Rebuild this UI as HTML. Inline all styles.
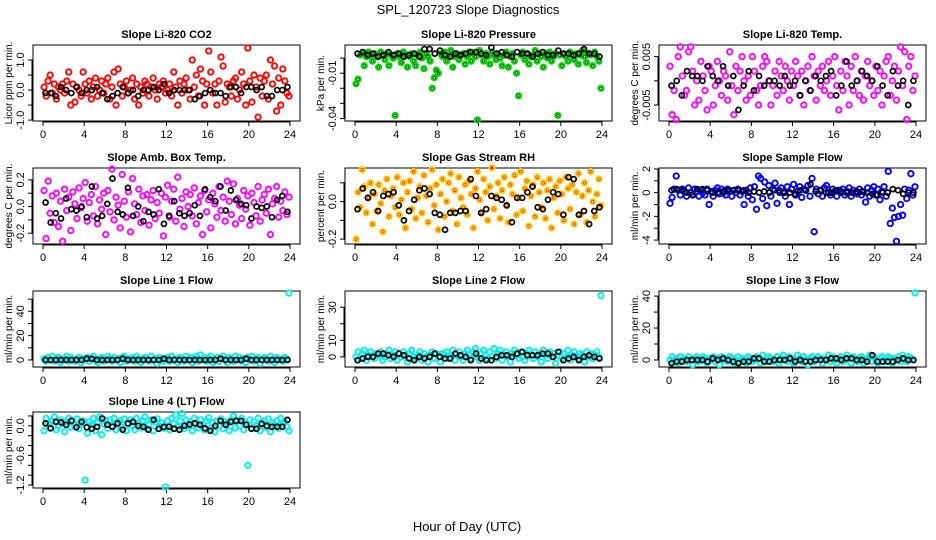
<!DOCTYPE html>
<html><head><meta charset="utf-8"><style>
html,body{margin:0;padding:0;background:#fff;}
svg{display:block;font-family:"Liberation Sans",Arial,sans-serif;}
</style></head><body>
<svg id="chart" width="936" height="540" viewBox="0 0 936 540" xmlns="http://www.w3.org/2000/svg">
<rect width="936" height="540" fill="#fff"/>
<text x="468" y="14" text-anchor="middle" font-size="13">SPL_120723  Slope Diagnostics</text>
<text x="467" y="531" text-anchor="middle" font-size="13">Hour of Day (UTC)</text>
</svg>
<script>
// shared x tick labels
const xTicks = [0,4,8,12,16,20,24];

// Panel 1: CO2
const co2Color = [0.1,-0.2,0.3,0.5,-0.1,0.2,-0.3,0.1,0.0,0.2,-0.1,0.3,0.6,-0.5,0.2,-0.4,0.1,0.0,-0.2,0.6,
0.2,-0.1,0.3,-0.3,0.1,0.4,-0.2,0.0,0.3,-0.1,0.2,0.4,-0.3,0.1,0.6,-0.5,0.7,0.2,-0.2,0.1,
0.3,-0.1,0.0,0.4,-0.3,0.2,-0.5,0.1,-0.1,0.3,0.2,-0.2,0.1,0.4,0.0,-0.3,0.2,0.1,0.3,-0.1,
0.0,0.2,-0.2,0.6,0.1,-0.5,0.3,-0.1,0.2,0.4,0.0,-0.3,1.0,0.1,0.5,-0.2,0.7,0.3,-0.5,0.2,
1.3,0.6,-0.1,0.2,-0.5,0.3,1.1,0.8,-0.4,0.2,0.1,-0.2,0.3,0.4,-0.3,0.0,0.6,0.2,-0.5,1.4,
0.3,-0.4,0.5,0.1,-0.9,0.4,-0.2,0.3,0.5,-0.3,1.0,0.2,0.8,-0.7,0.4,-0.5,0.7,0.3,-0.1,-0.2];
const co2Black = [-0.1,-0.1,-0.2,0.1,0.0,-0.1,0.1,-0.1,0.0,0.0,0.1,-0.1,-0.3,-0.2,-0.1,0.1,-0.1,0.0,-0.2,0.0,0.0,0.1,0.0,0.2,-0.1,0.0,0.0,0.0,0.0,-0.3,-0.2,-0.1,0.0,-0.1,-0.1,-0.2,0.1,0.1,-0.1,0.1,0.1,0.0,0.1,-0.2,-0.2,0.0,0.0,0.1];
const co2YTicks = [-1.0,-0.5,0.0,0.5,1.0];
const co2YLabels = ["-1.0","","0.0","","1.0"];

// Panel 2: Pressure (values in 1e-3 kPa/min)
const presColor = [-17,-14,2,3,-5,1,4,2,-2,3,1,-6,4,2,-1,3,-5,2,0,-38,
3,1,-3,4,2,-6,1,3,-2,-5,2,4,0,-7,3,1,-2,-20,-13,-8,
-10,3,1,4,-2,2,5,-6,1,3,-1,2,3,-4,1,4,-2,3,1,-41,
5,2,-2,3,1,-4,4,2,-1,3,0,-5,2,4,-6,1,3,-2,-10,-25,
2,4,-1,3,-4,1,2,5,-2,3,1,-6,3,0,4,-2,1,3,-38,2,
-5,3,1,-2,4,2,-1,3,-4,2,5,1,-3,3,2,-5,4,1,-2,-20];
const presBlack = [3,4,2,3,1,2,4,2,3,1,2,3,1,6,6,3,5,2,1,3,2,3,4,4,3,2,7,3,4,2,1,4,3,3,1,3,4,2,2,5,3,3,2,3,6,3,3,1];
const presYTicks = [-40,-30,-20,-10,0];
const presYLabels = ["-0.04","","","-0.01",""];

// Panel 3: Li-820 Temp (values in 1e-3 degC/min)
const tempColor = [3,-7,-2,-8,5,7,1,-3,-2,6,7,2,-5,0,-4,4,1,-2,-6,3,
2,-5,-1,4,0,-3,2,1,-4,6,-1,-7,3,-2,2,5,0,-4,1,-3,
5,2,-2,-5,-1,3,5,4,0,-5,-1,2,-3,4,1,-2,3,0,-4,2,
-1,4,1,-3,2,-5,0,3,-2,5,1,-4,2,-1,3,-2,0,4,-3,1,
5,-1,-6,2,-2,4,1,-5,3,-2,5,0,-3,2,-4,1,4,-1,0,-3,
3,-2,2,-5,1,4,5,-3,0,3,-4,2,7,-1,6,-8,3,5,-2,1];
const tempBlack = [-1,0,-3,2,1,1,0,3,1,0,3,-1,1,-6,-1,2,-2,1,-1,0,0,-1,1,-1,0,-3,0,-2,1,0,1,2,-3,-1,4,-1,0,2,1,0,3,-1,-3,2,-1,0,-5,0];
const tempYTicks = [-5,0,5];
const tempYLabels = ["-0.005","","0.005"];

// Panel 4: Amb. Box Temp
const ambColor = [0.12,-0.24,0.19,-0.05,0.08,-0.12,0.10,-0.15,0.04,-0.26,0.13,-0.03,0.07,-0.18,0.11,0.02,-0.09,0.14,-0.01,0.06,
0.18,-0.11,0.03,0.09,-0.07,0.15,-0.13,0.05,-0.02,0.10,-0.21,0.12,-0.04,0.28,-0.10,0.07,0.01,-0.16,0.24,0.04,
-0.08,0.11,-0.19,0.21,0.02,-0.06,0.13,-0.12,0.08,-0.03,0.09,-0.14,0.05,0.12,-0.09,0.03,-0.05,0.10,-0.22,0.07,
0.16,-0.08,0.04,0.13,-0.11,0.22,-0.02,0.06,-0.15,0.11,0.00,0.09,-0.07,0.14,-0.13,0.03,0.08,-0.21,0.12,-0.04,
0.05,-0.16,0.10,0.02,-0.08,0.15,-0.03,0.07,-0.11,0.19,0.04,-0.06,0.17,-0.13,0.06,0.01,-0.09,0.12,-0.02,0.08,
-0.14,0.10,0.03,-0.07,0.15,-0.11,0.05,0.09,-0.05,0.13,-0.21,0.02,0.06,0.15,-0.08,0.04,-0.03,0.11,-0.06,0.07];
const ambBlack = [0.03,-0.12,-0.05,-0.09,0.06,-0.02,-0.03,0.0,-0.08,0.15,-0.09,-0.07,0.02,0.21,-0.04,-0.06,0.14,-0.07,0.0,-0.11,-0.04,-0.06,0.13,-0.13,-0.07,0.04,-0.05,-0.07,-0.05,0.01,-0.07,0.13,0.07,0.04,0.15,-0.03,0.12,0.05,0.02,0.01,-0.09,0.0,-0.01,0.0,-0.08,0.05,0.08,-0.04];
const ambYTicks = [-0.2,-0.1,0.0,0.1,0.2];
const ambYLabels = ["-0.2","","0.0","","0.2"];

// Panel 5: Gas Stream RH
const rhColor = [-0.2,0.05,-0.03,0.17,0.08,-0.06,0.02,0.10,-0.12,0.04,-0.05,0.09,-0.01,-0.16,0.06,0.12,-0.08,0.03,0.07,-0.03,
0.13,-0.07,0.01,0.10,-0.14,0.05,0.11,-0.04,0.16,-0.09,0.02,0.08,-0.06,0.14,0.03,-0.11,0.07,0.17,-0.02,0.09,
-0.15,0.04,0.12,-0.08,0.00,0.10,0.15,-0.05,0.06,-0.12,0.13,0.02,-0.03,0.09,-0.07,0.11,0.04,-0.14,0.07,0.16,
0.01,-0.06,0.12,0.05,-0.10,0.08,0.18,-0.04,0.03,0.10,-0.09,0.06,0.13,-0.02,-0.11,0.09,0.04,0.14,-0.07,0.02,
0.16,-0.05,0.07,0.11,-0.13,0.03,0.09,-0.08,0.13,0.05,-0.03,0.10,-0.09,0.06,0.12,-0.14,0.02,0.08,-0.06,0.11,
0.04,-0.10,0.13,0.07,-0.04,0.09,-0.12,0.05,0.15,-0.07,0.03,0.10,-0.11,0.06,0.16,0.00,-0.08,0.04,0.12,-0.02];
const rhBlack = [-0.04,0.07,0.02,0.05,-0.05,0.03,0.04,0.05,-0.02,-0.1,-0.05,0.01,0.06,0.07,0.04,-0.06,-0.07,-0.15,-0.06,-0.06,-0.05,-0.05,0.12,0.03,-0.06,-0.04,0.03,0.02,0.01,-0.02,-0.11,0.02,0.02,0.05,0.08,-0.03,-0.04,0.01,0.05,0.04,-0.07,0.13,0.12,-0.07,-0.05,-0.12,-0.05,-0.03];
const rhYTicks = [-0.2,-0.1,0.0,0.1];
const rhYLabels = ["-0.2","","0.0",""];

// Panel 6: Sample Flow
const sampColor = [-0.9,-0.4,0.3,1.4,0.2,-0.2,0.3,0.1,-0.3,0.4,0.0,-0.2,0.3,0.1,-0.3,0.2,0.0,-0.2,0.3,-1.0,
0.1,-0.3,0.2,0.4,-0.1,0.3,0.0,-0.2,0.3,0.1,-0.3,0.2,0.0,0.3,-0.2,0.1,-1.0,0.2,-0.3,0.4,
-0.6,0.5,-1.4,1.4,1.2,-0.5,0.9,-1.1,0.6,-0.3,0.3,0.8,-0.9,0.2,0.4,0.0,-0.3,0.5,-1.0,0.3,
0.7,-0.2,0.1,0.5,-0.4,0.3,0.2,0.6,-0.3,1.2,-3.3,0.3,-0.1,0.2,-0.3,0.4,0.6,0.0,-0.2,0.3,
0.1,-0.3,0.2,0.0,0.3,-0.2,0.1,0.4,-0.3,0.2,0.0,-0.1,0.3,-0.2,0.1,-0.8,0.4,-0.3,0.2,0.5,
-0.2,0.3,-0.6,0.1,0.5,-0.3,1.8,-2.6,-1.3,-2.1,-4.1,-2.0,-1.0,-1.9,0.3,-0.5,0.2,1.6,-0.2,0.5];
const sampBlack = [0.2,0.3,0.2,0.0,-0.2,0.3,0.3,0.2,0.0,0.0,0.1,0.2,0.2,0.2,0.2,0.0,0.1,0.0,0.1,0.0,0.2,0.0,0.0,0.0,-0.1,0.2,0.2,0.7,0.1,0.2,0.0,0.0,0.2,0.1,0.0,0.0,0.1,0.1,0.0,-0.1,-0.2,0.0,0.0,0.3,0.2,-0.1,0.0,0.0];
const sampYTicks = [-4,-3,-2,-1,0,1,2];
const sampYLabels = ["-4","","-2","","0","","2"];

// Panel 7: Line 1 Flow
const l1Color = [1,-1,2,0,3,-1,1,2,-2,0,1,3,-1,2,0,-1,1,2,-2,1,
0,2,-1,1,3,0,-2,1,2,-1,0,3,1,-1,2,0,1,-2,2,3,
-1,1,0,2,-1,3,1,-2,0,2,1,-1,3,0,1,-3,2,0,-1,1,
2,-1,3,0,1,-2,2,1,-1,3,0,2,-2,1,3,-1,4,0,2,-1,
1,3,-2,0,2,-1,1,3,0,-2,2,1,-1,3,0,2,-1,1,-2,2,
0,3,-1,1,2,-3,0,2,1,-1,3,0,-2,2,1,0,-1,2,1,55];
const l1Black = [0,0,0,0,0,0,0,0,1,1,0,0,0,0,0,1,0,0,0,0,0,0,0,1,0,0,0,0,0,0,0,0,0,0,1,0,0,0,0,1,0,0,0,0,0,0,0,0];
const l1YTicks = [0,10,20,30,40,50];
const l1YLabels = ["0","","20","","40",""];

// Panel 8: Line 2 Flow
const l2Color = [0,3,-1,2,4,-2,1,3,0,-1,2,1,3,-2,0,2,4,-1,1,3,
-2,2,0,3,1,-3,2,4,0,-1,1,3,-2,2,0,-3,1,3,-1,2,
0,-3,2,1,3,-1,0,4,-2,1,3,0,-2,2,4,1,-1,3,5,0,
-2,2,4,1,-1,3,0,5,-1,2,4,-2,1,3,0,-3,2,4,1,-1,
3,0,-2,2,4,1,-1,3,0,2,-3,4,1,-1,3,0,2,-4,1,3,
-1,2,0,4,-2,1,3,0,-1,2,1,-3,3,0,2,-1,1,3,0,37];
const l2Black = [-2,-1,0,0,2,2,1,0,2,1,-1,-2,0,-1,0,2,0,-1,-1,2,1,0,-2,2,-1,-2,-2,0,1,1,0,2,3,1,1,1,2,2,0,3,-2,-1,0,-2,0,1,0,-1];
const l2YTicks = [0,10,20,30];
const l2YLabels = ["0","10","","30"];

// Panel 9: Line 3 Flow
const l3Color = [0,2,-1,1,-2,2,0,1,-1,2,0,-3,1,2,-1,0,2,1,-2,1,
0,2,-1,1,-3,2,0,1,-1,2,1,-2,0,2,-1,1,0,-2,2,1,
-1,0,2,1,-2,3,0,-1,2,1,-1,0,2,-2,1,3,0,-1,2,1,
-2,0,3,1,-1,2,0,-3,1,2,-1,0,2,1,-2,1,0,3,-1,2,
0,-2,1,2,-1,0,3,1,-2,2,0,-1,1,2,-2,0,1,3,-1,2,
0,-2,1,2,-1,0,2,1,-2,1,0,2,-1,3,0,-1,2,1,0,42];
const l3Black = [-2,-1,-1,0,0,0,0,-1,1,0,1,0,-1,-2,-1,-1,1,1,-1,-1,0,0,0,1,-1,0,-1,-1,0,0,0,1,1,0,1,1,0,0,-1,3,-1,-1,-1,-1,0,1,0,0];
const l3YTicks = [0,10,20,30,40];
const l3YLabels = ["0","","20","","40"];

// Panel 10: Line 4 (LT) Flow
const l4Color = [-0.1,0.15,0.05,-0.05,0.1,0.18,-0.08,0.0,0.12,0.05,-0.12,0.08,0.15,-0.03,0.1,0.0,0.14,-0.06,0.05,0.1,
-1.1,-0.15,0.08,0.02,0.15,-0.1,0.06,0.18,-0.18,0.04,0.1,-0.05,0.12,0.0,0.15,-0.08,0.06,0.1,-0.03,0.14,
-0.1,0.05,0.12,0.0,-0.08,0.15,0.06,-0.04,0.1,0.18,-0.06,0.02,0.12,-0.1,0.08,0.14,0.0,0.06,-0.05,-1.24,
0.1,-0.08,0.15,0.04,0.22,-0.02,0.1,0.25,-0.06,0.12,0.0,0.08,-0.1,0.15,0.05,-0.04,0.12,0.02,-0.08,0.1,
0.16,-0.05,0.06,-0.12,0.1,0.0,0.14,-0.06,0.08,0.04,-0.1,0.12,0.2,-0.04,0.1,0.0,0.15,-0.08,0.06,-0.8,
0.12,-0.05,0.08,0.0,0.15,-0.1,0.05,0.1,-0.03,0.14,-0.12,0.06,0.0,0.1,-0.05,0.15,0.04,0.08,-0.02,-0.1];
const l4Black = [0.05,-0.05,0.08,0.07,0.02,0.1,-0.03,0.08,-0.03,-0.06,-0.02,0.15,0.02,-0.02,0.05,-0.08,0.05,0.08,0.0,-0.02,-0.08,0.12,-0.06,-0.02,-0.02,-0.06,-0.08,0.0,0.03,0.05,0.02,-0.05,-0.1,0.0,0.1,0.02,0.08,0.1,0.1,0.02,-0.06,-0.06,0.04,0.0,-0.02,-0.02,-0.02,0.12];
const l4YTicks = [-1.2,-1.0,-0.8,-0.6,-0.4,-0.2,0.0,0.2];
const l4YLabels = ["-1.2","","","-0.6","","","0.0",""];

const svg = document.getElementById('chart');
const NS = 'http://www.w3.org/2000/svg';
function mk(tag, attrs, parent){
  const e = document.createElementNS(NS, tag);
  for (const k in attrs) e.setAttribute(k, attrs[k]);
  (parent||svg).appendChild(e);
  return e;
}
const colLeft = [33, 345, 659];
const rowTop = [45, 168, 291, 412];
const W = 267, H = 76;

function panel(cfg){
  const L = colLeft[cfg.col], T = rowTop[cfg.row];
  const g = mk('g', {});
  
  
  const xs = t => L + 10 + t / 24 * (W - 20);
  const ys = v => T + (cfg.ymax - v * cfg.unit) / (cfg.ymax - cfg.ymin) * H;
  const title = mk('text', {x: L + W/2, y: T - 7, 'text-anchor':'middle', 'font-size':11, 'font-weight':'bold'}, g);
  title.textContent = cfg.title;
  
  
  const box = mk('rect', {x:L, y:T, width:W, height:H, fill:'none', stroke:'#000', 'stroke-width':1}, g);
  
  
  const xa = mk('g', {}, g);
  
  
  mk('line', {x1:xs(xTicks[0]), x2:xs(xTicks[xTicks.length-1]), y1:T+H+1, y2:T+H+1, stroke:'#000'}, xa);
  xTicks.forEach(t => {
    mk('line', {x1:xs(t), x2:xs(t), y1:T+H, y2:T+H+5, stroke:'#000'}, xa);
    const tx = mk('text', {x:xs(t), y:T+H+17, 'text-anchor':'middle', 'font-size':11}, xa);
    tx.textContent = t;
  });
  const ya = mk('g', {}, g);
  
  
  const yt = cfg.yticks;
  mk('line', {x1:L-1, x2:L-1, y1:ys(yt[0]), y2:ys(yt[yt.length-1]), stroke:'#000'}, ya);
  yt.forEach((v, i) => {
    const y = ys(v);
    mk('line', {x1:L-5, x2:L, y1:y, y2:y, stroke:'#000'}, ya);
    if (cfg.ylabels[i]) {
      const tx = mk('text', {x:L-9, y:y, 'text-anchor':'middle', 'font-size':11, transform:`rotate(-90 ${L-9} ${y})`}, ya);
      tx.textContent = cfg.ylabels[i];
    }
  });
  const yTitle = mk('text', {x:L-21, y:T+H/2, 'text-anchor':'middle', 'font-size':10, transform:`rotate(-90 ${L-21} ${T+H/2})`}, g);
  yTitle.textContent = cfg.ytitle;
  
  
  const cs = mk('g', {fill:'none', stroke:cfg.color, 'stroke-width':1.9}, g);
  
  
  cfg.colorData.forEach((v, i) => {
    const n = cfg.colorData.length;
    const t = (i + 0.5) * 24 / n;
    const c = mk('circle', {cx:xs(t), cy:ys(v), r:2.7}, cs);
    
    
  });
  if (cfg.inner) {
    cfg.colorData.forEach((v, i) => {
      const n = cfg.colorData.length;
      const t = (i + 0.5) * 24 / n;
      mk('circle', {cx:xs(t), cy:ys(v), r:1.3, fill:'none', stroke:cfg.inner, 'stroke-width':0.9}, cs);
    });
  }
  const bs = mk('g', {fill:'none', stroke:'#000', 'stroke-width':1.7}, g);
  
  
  cfg.blackData.forEach((v, i) => {
    const n = cfg.blackData.length;
    const t = (i + 0.5) * 24 / n;
    const c = mk('circle', {cx:xs(t), cy:ys(v), r:2.5}, bs);
    
    
  });
}

panel({name:'co2', title:'Slope Li-820 CO2', ytitle:'Licor ppm per min.', col:0,row:0, ymin:-1.03, ymax:1.5, unit:1, yticks:co2YTicks, ylabels:co2YLabels, color:'#ff0000', colorData:co2Color, blackData:co2Black});
panel({name:'pressure', title:'Slope Li-820 Pressure', ytitle:'kPa per min.', col:1,row:0, ymin:-41.7, ymax:8.7, unit:1, yticks:presYTicks, ylabels:presYLabels, color:'#00dd00', inner:'#005500', colorData:presColor, blackData:presBlack});
panel({name:'li820-temp', title:'Slope Li-820 Temp.', ytitle:'degrees C per min.', col:2,row:0, ymin:-8.3, ymax:7.4, unit:1, yticks:tempYTicks, ylabels:tempYLabels, color:'#ff00ff', colorData:tempColor, blackData:tempBlack});
panel({name:'amb-box-temp', title:'Slope Amb. Box Temp.', ytitle:'degrees C per min.', col:0,row:1, ymin:-0.281, ymax:0.289, unit:1, yticks:ambYTicks, ylabels:ambYLabels, color:'#ff00ff', colorData:ambColor, blackData:ambBlack});
panel({name:'gas-rh', title:'Slope Gas Stream RH', ytitle:'percent per min.', col:1,row:1, ymin:-0.226, ymax:0.179, unit:1, yticks:rhYTicks, ylabels:rhYLabels, color:'#ffcc00', inner:'#ff3300', colorData:rhColor, blackData:rhBlack});
panel({name:'sample-flow', title:'Slope Sample Flow', ytitle:'ml/min per min.', col:2,row:1, ymin:-4.33, ymax:2.08, unit:1, yticks:sampYTicks, ylabels:sampYLabels, color:'#0000ff', colorData:sampColor, blackData:sampBlack});
panel({name:'line1-flow', title:'Slope Line 1 Flow', ytitle:'ml/min per min.', col:0,row:2, ymin:-5.8, ymax:56.7, unit:1, yticks:l1YTicks, ylabels:l1YLabels, color:'#00eeee', colorData:l1Color, blackData:l1Black});
panel({name:'line2-flow', title:'Slope Line 2 Flow', ytitle:'ml/min per min.', col:1,row:2, ymin:-6.1, ymax:39.8, unit:1, yticks:l2YTicks, ylabels:l2YLabels, color:'#00eeee', colorData:l2Color, blackData:l2Black});
panel({name:'line3-flow', title:'Slope Line 3 Flow', ytitle:'ml/min per min.', col:2,row:2, ymin:-4.4, ymax:43.2, unit:1, yticks:l3YTicks, ylabels:l3YLabels, color:'#00eeee', colorData:l3Color, blackData:l3Black});
panel({name:'line4-flow', title:'Slope Line 4 (LT) Flow', ytitle:'ml/min per min.', col:0,row:3, ymin:-1.26, ymax:0.28, unit:1, yticks:l4YTicks, ylabels:l4YLabels, color:'#00eeee', colorData:l4Color, blackData:l4Black});
</script>
</body></html>
